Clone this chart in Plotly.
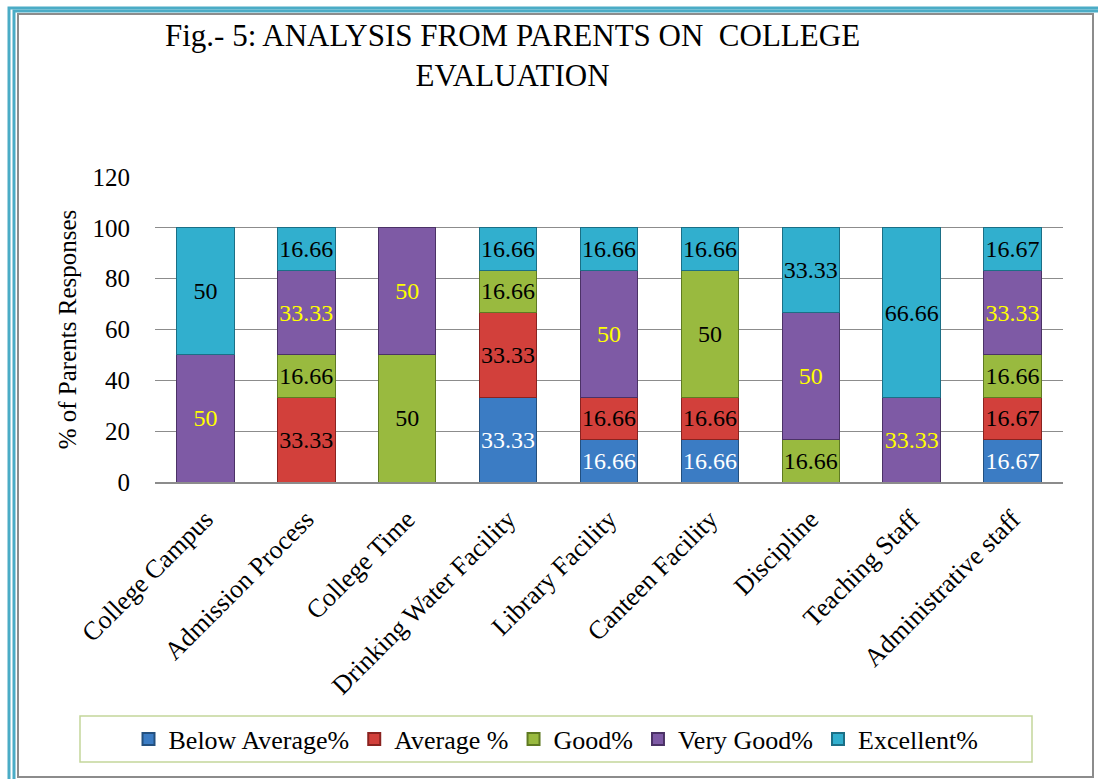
import plotly.graph_objects as go

# data
categories = ['College Campus', 'Admission Process', 'College Time', 'Drinking Water Facility',
              'Library Facility', 'Canteen Facility', 'Discipline', 'Teaching Staff', 'Administrative staff']
below_avg = [None, None, None, 33.33, 16.66, 16.66, None, None, 16.67]
average = [None, 33.33, None, 33.33, 16.66, 16.66, None, None, 16.67]
good = [None, 16.66, 50, 16.66, None, 50, 16.66, None, 16.66]
very_good = [50, 33.33, 50, None, 50, None, 50, 33.33, 33.33]
excellent = [50, 16.66, None, 16.66, 16.66, 16.66, 33.33, 66.66, 16.67]

series = [
    ('Below Average%', below_avg, '#3b7cc4', '#23507f', 'white'),
    ('Average %', average, '#d2403b', '#8a2320', 'black'),
    ('Good%', good, '#99ba3f', '#5f7a22', 'black'),
    ('Very Good%', very_good, '#7e5aa5', '#4b3266', 'yellow'),
    ('Excellent%', excellent, '#31afce', '#1b6f86', 'black'),
]

FONT = 'Liberation Serif'

fig = go.Figure()
for name, vals, col, edge, tcol in series:
    fig.add_trace(go.Bar(
        x=categories, y=vals, name=name,
        marker=dict(color=col, line=dict(color=edge, width=1)),
        text=vals, texttemplate='%{y}', textposition='inside',
        insidetextanchor='middle', textangle=0,
        textfont=dict(family=FONT, size=24, color=tcol),
    ))

# plot area in pixels: left 155, right 1063, top 177, bottom 482
L, R, T, B = 155, 1063, 177, 482
def px(x):
    return (x - L) / (R - L)
def py(y):
    return (B - y) / (B - T)

shapes = [
    dict(type='rect', xref='paper', yref='paper', x0=px(9), y0=py(8), x1=px(1110), y1=py(800),
         line=dict(color='#4bacc6', width=3)),
    dict(type='rect', xref='paper', yref='paper', x0=px(14), y0=py(11), x1=px(1105), y1=py(795),
         line=dict(color='#4bacc6', width=3)),
    dict(type='rect', xref='paper', yref='paper', x0=px(18), y0=py(14), x1=px(1093), y1=py(777),
         line=dict(color='#8c8c8c', width=2)),
    # legend box
    dict(type='rect', xref='paper', yref='paper', x0=px(80), y0=py(716), x1=px(1032), y1=py(762),
         line=dict(color='#c3d69b', width=1.5), layer='above'),
]

fig.update_layout(
    width=1098, height=779,
    margin=dict(l=L, r=1098 - R, t=T, b=779 - B),
    paper_bgcolor='white', plot_bgcolor='white',
    barmode='stack', bargap=0.43,
    font=dict(family=FONT, color='black'),
    shapes=shapes,
    annotations=[dict(text='Fig.- 5: ANALYSIS FROM PARENTS ON  COLLEGE<br>EVALUATION',
                      xref='paper', yref='paper', x=px(512), y=py(55), xanchor='center',
                      yanchor='middle', showarrow=False, align='center',
                      font=dict(size=31, family=FONT))],
    showlegend=True,
    legend=dict(orientation='h', x=px(556), xanchor='center', y=py(739), yanchor='middle',
                font=dict(size=26, family=FONT), borderwidth=0, bgcolor='rgba(0,0,0,0)',
                traceorder='normal', itemsizing='constant'),
    uniformtext=dict(minsize=24, mode='show'),
)
fig.update_yaxes(range=[0, 120], dtick=20, showgrid=True, gridcolor='#8c8c8c', gridwidth=1.2,
                 zeroline=False, showline=False, tickfont=dict(size=25), ticklabelstandoff=24,
                 title=dict(text='% of Parents Responses', font=dict(size=25), standoff=8))
fig.update_xaxes(showline=True, linecolor='#8c8c8c', linewidth=1.5, tickangle=-45,
                 tickfont=dict(size=26), showgrid=False, ticklabelstandoff=10)

fig.write_html('out.html', config={'displayModeBar': False},
               post_script="document.body.style.margin='0px';")
